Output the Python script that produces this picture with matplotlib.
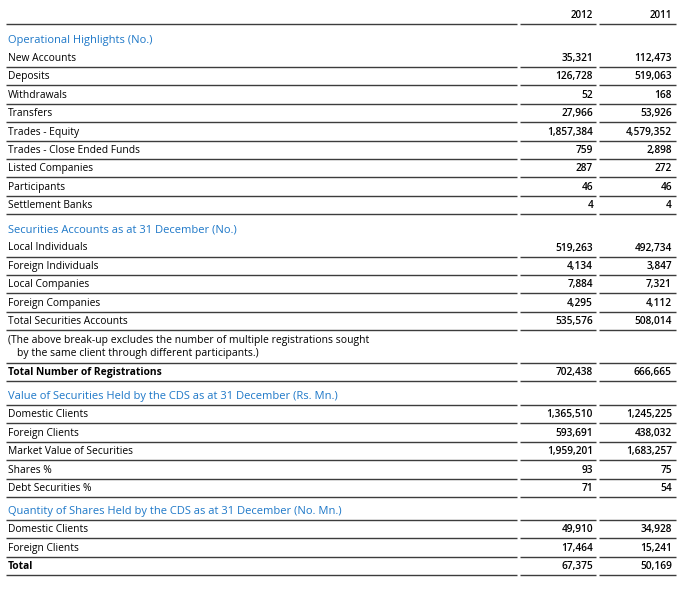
import matplotlib.pyplot as plt

years = ['2012', '2011']

ops_title = 'Operational Highlights (No.)'
ops_labels = ['New Accounts', 'Deposits', 'Withdrawals', 'Transfers', 'Trades - Equity',
              'Trades - Close Ended Funds', 'Listed Companies', 'Participants', 'Settlement Banks']
ops_2012 = [35321, 126728, 52, 27966, 1857384, 759, 287, 46, 4]
ops_2011 = [112473, 519063, 168, 53926, 4579352, 2898, 272, 46, 4]

acct_title = 'Securities Accounts as at 31 December (No.)'
acct_labels = ['Local Individuals', 'Foreign Individuals', 'Local Companies',
               'Foreign Companies', 'Total Securities Accounts']
acct_2012 = [519263, 4134, 7884, 4295, 535576]
acct_2011 = [492734, 3847, 7321, 4112, 508014]
acct_note = ['(The above break-up excludes the number of multiple registrations sought',
             'by the same client through different participants.)']
reg_label = 'Total Number of Registrations'
reg_2012 = 702438
reg_2011 = 666665

value_title = 'Value of Securities Held by the CDS as at 31 December (Rs. Mn.)'
value_labels = ['Domestic Clients', 'Foreign Clients', 'Market Value of Securities',
                'Shares %', 'Debt Securities %']
value_2012 = [1365510, 593691, 1959201, 93, 71]
value_2011 = [1245225, 438032, 1683257, 75, 54]

qty_title = 'Quantity of Shares Held by the CDS as at 31 December (No. Mn.)'
qty_labels = ['Domestic Clients', 'Foreign Clients', 'Total']
qty_2012 = [49910, 17464, 67375]
qty_2011 = [34928, 15241, 50169]

BLUE = '#1e78c8'
LINE = '#3c3c3c'
FS = 7.4
ROW = 18.4
X_LABEL = 8
X_COLS = [593, 672]
SEGS = [(6, 517), (520, 596), (599, 676)]

plt.rcParams['font.family'] = ['Open Sans', 'DejaVu Sans']

fig = plt.figure(figsize=(6.97, 5.90), dpi=100)
ax = fig.add_axes([0, 0, 1, 1])
ax.set_xlim(0, 697)
ax.set_ylim(590, 0)
ax.axis('off')


def rule(y):
    for x0, x1 in SEGS:
        ax.plot([x0, x1], [y, y], color=LINE, lw=1.0, solid_capstyle='butt')


def row(y, label, v12, v11, bold=False):
    ax.text(X_LABEL, y, label, fontsize=FS, va='center', ha='left',
            fontweight='bold' if bold else 'normal', color='black')
    for x, v in zip(X_COLS, [v12, v11]):
        ax.text(x, y, f'{v:,}', fontsize=FS - 0.1, va='center', ha='right',
                fontweight='semibold', color='black')
    rule(y + 8.5)


def title(y, text):
    ax.text(X_LABEL, y, text, fontsize=8.0, va='center', ha='left', color=BLUE)


# column headers
for x, yr in zip(X_COLS, years):
    ax.text(x, 16, yr, fontsize=FS - 0.3, va='center', ha='right', fontweight='semibold')
rule(24)

# operational highlights
y = 40
title(y, ops_title)
for lab, a, b in zip(ops_labels, ops_2012, ops_2011):
    y += ROW
    row(y, lab, a, b)

# securities accounts
y += 24
title(y, acct_title)
for lab, a, b in zip(acct_labels, acct_2012, acct_2011):
    y += ROW
    row(y, lab, a, b)
y += 19
ax.text(X_LABEL, y, acct_note[0], fontsize=FS + 0.1, va='center', ha='left')
y += 13
ax.text(X_LABEL + 9, y, acct_note[1], fontsize=FS + 0.1, va='center', ha='left')
rule(y + 9)
y += 19
row(y, reg_label, reg_2012, reg_2011, bold=True)

# value of securities
y += 24
title(y, value_title)
rule(y + 8.5)
for lab, a, b in zip(value_labels, value_2012, value_2011):
    y += ROW
    row(y, lab, a, b)

# quantity of shares
y += 23
title(y, qty_title)
rule(y + 8.5)
for i, (lab, a, b) in enumerate(zip(qty_labels, qty_2012, qty_2011)):
    y += ROW
    row(y, lab, a, b, bold=(i == len(qty_labels) - 1))

fig.savefig('out.png', dpi=100, facecolor='white')
